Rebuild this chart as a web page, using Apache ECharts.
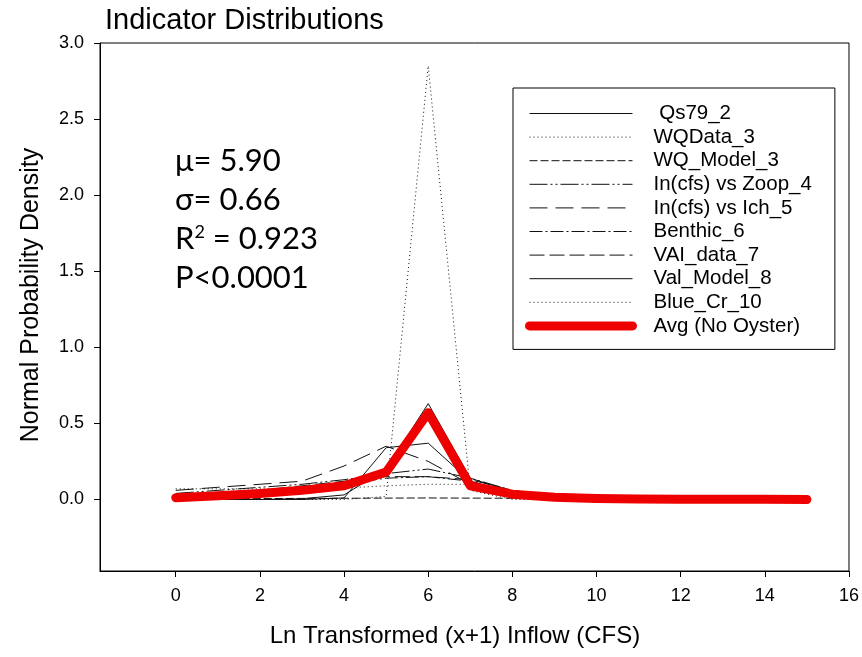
<!DOCTYPE html>
<html>
<head>
<meta charset="utf-8">
<script src="https://cdn.jsdelivr.net/npm/echarts@6/dist/echarts.min.js"></script>
<style>html,body{margin:0;padding:0;background:#fff}#c{width:862px;height:657px}</style>
</head>
<body>
<div id="c"></div>
<script>
// ---- data ----
const xValues   = [0,1,2,3,4,5,6,7,8,9,10,11,12,13,14,15];
const qs79_2    = [0,0,0,0.005,0.03,0.2,0.63,0.14,0.05,0.02,0.005,0,0,0,0,0];
const wqData_3  = [0,0,0,0,0,0.02,2.85,0.06,0,0,0,0,0,0,0,0];
const wqModel_3 = [0.004,0.005,0.006,0.007,0.008,0.009,0.01,0.009,0.008,0.007,0.006,0.005,0.004,0.003,0.002,0.002];
const zoop_4    = [0.04,0.06,0.08,0.1,0.13,0.17,0.2,0.14,0.06,0.02,0.01,0,0,0,0,0];
const ich_5     = [0.06,0.08,0.1,0.12,0.22,0.35,0.25,0.1,0.04,0.01,0,0,0,0,0,0];
const benthic_6 = [0.03,0.04,0.05,0.07,0.1,0.14,0.15,0.12,0.05,0.02,0.005,0,0,0,0,0];
const vaiData_7 = [0.02,0.04,0.06,0.09,0.12,0.15,0.15,0.13,0.06,0.02,0.01,0,0,0,0,0];
const valModel_8= [0,0,0,0,0.01,0.34,0.37,0.12,0.04,0.01,0,0,0,0,0,0];
const blueCr_10 = [0.07,0.07,0.07,0.07,0.075,0.09,0.1,0.1,0.04,0.015,0.005,0,0,0,0,0];
const avgNoOyster=[0.012,0.025,0.04,0.06,0.09,0.18,0.57,0.09,0.035,0.015,0.006,0.003,0.002,0.001,0.001,0];
const xTicks = [0,2,4,6,8,10,12,14,16];
const yTicks = [0,0.5,1.0,1.5,2.0,2.5,3.0];
const seriesNames = ['Qs79_2','WQData_3','WQ_Model_3','In(cfs) vs Zoop_4','In(cfs) vs Ich_5','Benthic_6','VAI_data_7','Val_Model_8','Blue_Cr_10','Avg (No Oyster)'];
const legendLabels = [' Qs79_2','WQData_3','WQ_Model_3','In(cfs) vs Zoop_4','In(cfs) vs Ich_5','Benthic_6','VAI_data_7','Val_Model_8','Blue_Cr_10','Avg (No Oyster)'];

const seriesValues = [qs79_2,wqData_3,wqModel_3,zoop_4,ich_5,benthic_6,vaiData_7,valModel_8,blueCr_10,avgNoOyster];
const dashes = ['solid',[1,3],[8,3],[18,3,2,3,2,3],[18,8],[13,3,2,3],[15,5],'solid',[1,3],'solid'];

const chart = echarts.init(document.getElementById('c'));
const series = seriesValues.map((vals,i)=>{
  const isAvg = i===seriesValues.length-1;
  return {
    name: seriesNames[i],
    type:'line',
    symbol:'none',
    data: xValues.map((x,j)=>[x, vals[j]]),
    z: isAvg ? 10 : 2,
    lineStyle: isAvg ? {color:'#ee0000', width:9, cap:'round', join:'round'}
                     : {color:'#111', width:1, type:dashes[i]},
    itemStyle:{color: isAvg ? '#ee0000' : '#111'},
    emphasis:{disabled:true},
    silent:true
  };
});

const legendData = seriesNames.map((n,i)=>{
  const isAvg = i===seriesNames.length-1;
  return {
    name:n,
    itemStyle:{opacity:0, borderWidth:0},
    lineStyle: isAvg ? {color:'#ee0000', width:9, cap:'round', opacity:1} : {color:'#111', width:1, type:dashes[i], opacity:1}
  };
});
const labelMap = {};
seriesNames.forEach((n,i)=>labelMap[n]=legendLabels[i]);
const FONT = 'Liberation Sans, Arial';

chart.setOption({
  animation:false,
  backgroundColor:'#fff',
  title:{text:'Indicator Distributions', left:100, top:1,
    textStyle:{fontFamily:FONT, fontSize:29, fontWeight:'normal', color:'#000'}},
  grid:{left:100, right:13, top:43, bottom:86, show:true, borderColor:'#000', borderWidth:1, backgroundColor:'transparent'},
  legend:{
    orient:'vertical', left:513, top:88,
    data: legendData,
    itemWidth:103, itemHeight:12, itemGap:2.6,
    padding:[15,23,13,12],
    borderColor:'#000', borderWidth:1, backgroundColor:'#fff',
    selectedMode:false,
    formatter: n=>labelMap[n],
    textStyle:{fontFamily:FONT, fontSize:20.5, color:'#000', lineHeight:20, padding:[0,0,0,16]}
  },
  xAxis:{
    type:'value', min:-1.8, max:16,
    axisLine:{show:true, onZero:false, lineStyle:{color:'#000', width:1}},
    axisTick:{show:true, customValues:xTicks, length:6, lineStyle:{color:'#000'}},
    axisLabel:{customValues:xTicks, margin:16, fontFamily:FONT, fontSize:18, color:'#000'},
    splitLine:{show:false}
  },
  yAxis:{
    type:'value', min:-0.47, max:3.0,
    axisLine:{show:true, onZero:false, lineStyle:{color:'#000', width:1}},
    axisTick:{show:true, customValues:yTicks, length:6, lineStyle:{color:'#000'}},
    axisLabel:{customValues:yTicks, margin:16, formatter:v=>v.toFixed(1), fontFamily:FONT, fontSize:18, color:'#000'},
    splitLine:{show:false}
  },
  graphic:[
    {type:'text', x:455, y:636, style:{text:'Ln Transformed (x+1) Inflow (CFS)', font:'24px '+FONT, fill:'#000', align:'center', verticalAlign:'middle'}},
    {type:'text', x:31, y:295, rotation:Math.PI/2, style:{text:'Normal Probability Density', font:'25px '+FONT, fill:'#000', align:'center', verticalAlign:'middle'}},
    {type:'text', left:175, top:145, style:{text:'μ= 5.90', font:'31px Lato', fill:'#000'}},
    {type:'text', left:175, top:184, style:{text:'σ= 0.66', font:'31px Lato', fill:'#000'}},
    {type:'text', left:175, top:223, style:{text:'R{s|2} = 0.923', font:'31px Lato', fill:'#000',
      rich:{s:{fontSize:18, fontFamily:'Lato', verticalAlign:'top', padding:[0,0,12,0]}}}},
    {type:'text', left:175, top:262, style:{text:'P<0.0001', font:'31px Lato', fill:'#000'}}
  ],
  series: series
});
</script>
</body>
</html>
